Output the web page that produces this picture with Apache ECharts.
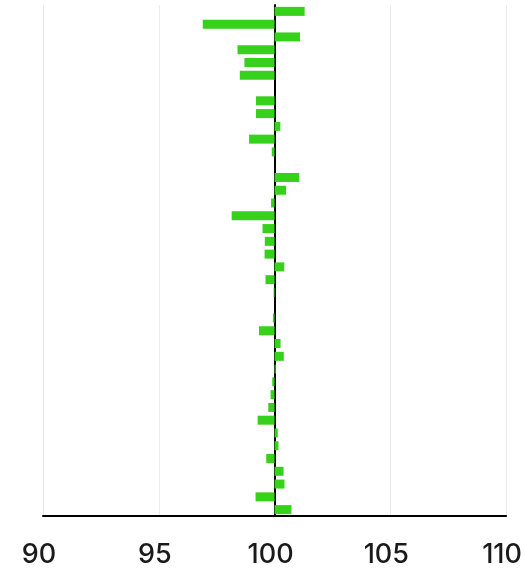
<!DOCTYPE html>
<html>
<head>
<meta charset="utf-8">
<script src="https://cdn.jsdelivr.net/npm/echarts@6/dist/echarts.min.js"></script>
<style>
  html, body { margin: 0; padding: 0; background: #fff; }
  #chart { width: 525px; height: 571px; }
</style>
</head>
<body>
<div id="chart"></div>
<script>
// 40 rows, top to bottom; null = empty row
const categories = [];
for (let i = 1; i <= 40; i++) categories.push('r' + i);

const values = [
  101.3, 96.9, 101.1, 98.4, 98.7, 98.5, null, 99.2, 99.2, 100.25,
  98.9, 99.88, null, 101.07, 100.5, 99.85, 98.15, 99.48, 99.58, 99.57,
  100.42, 99.61, 99.96, null, 99.93, 99.33, 100.26, 100.4, 100.05, 99.9,
  99.83, 99.73, 99.27, 100.14, 100.17, 99.64, 100.39, 100.43, 99.18, 100.73
];

const BASE = 100;
const tickValues = [90, 95, 100, 105, 110];

var chart = echarts.init(document.getElementById('chart'));

var option = {
  animation: false,
  grid: { left: 43, right: 15, top: 5, bottom: 55 },
  xAxis: {
    type: 'value',
    min: tickValues[0] - BASE,
    max: tickValues[tickValues.length - 1] - BASE,
    interval: 5,
    axisLine: { show: true, onZero: false, lineStyle: { color: '#000', width: 2 } },
    axisTick: { show: false },
    splitLine: { show: true, lineStyle: { color: '#ebebeb', width: 1 } },
    axisLabel: {
      margin: 25,
      color: '#1a1a1a',
      fontFamily: 'Inter',
      fontWeight: 500,
      fontSize: 27,
      padding: [0, 8, 0, 0],
      formatter: function (v) { return String(v + BASE); }
    }
  },
  yAxis: {
    type: 'category',
    data: categories,
    inverse: true,
    axisLine: { show: true, onZero: true, lineStyle: { color: '#000', width: 2 } },
    axisTick: { show: false },
    axisLabel: { show: false },
    splitLine: { show: false }
  },
  series: [{
    type: 'bar',
    barWidth: 9,
    itemStyle: { color: '#36d11a' },
    data: values.map(v => v == null ? null : +(v - BASE).toFixed(3))
  }]
};

chart.setOption(option);
</script>
</body>
</html>
